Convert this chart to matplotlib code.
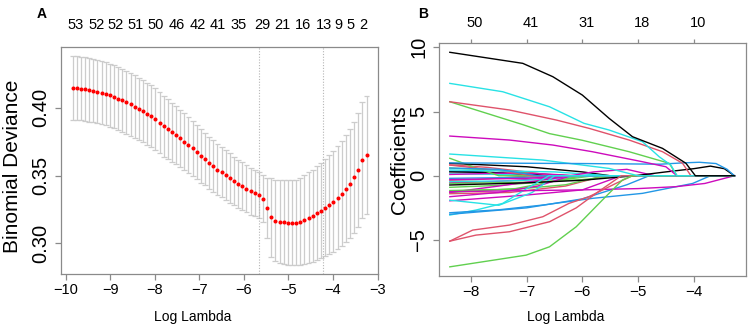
import matplotlib
matplotlib.use("Agg")
import matplotlib.pyplot as plt
from matplotlib.transforms import ScaledTranslation

plt.rcParams['font.family'] = ['Liberation Sans', 'DejaVu Sans']

# ---------------- Panel A data (cv.glmnet curve) ----------------
log_lambda_A = [-9.850, -9.757, -9.664, -9.571, -9.478, -9.385, -9.292, -9.199, -9.106, -9.013,
                -8.920, -8.827, -8.734, -8.641, -8.548, -8.455, -8.362, -8.269, -8.176, -8.083,
                -7.990, -7.897, -7.804, -7.711, -7.618, -7.525, -7.432, -7.339, -7.246, -7.153,
                -7.060, -6.967, -6.874, -6.781, -6.688, -6.595, -6.502, -6.409, -6.316, -6.223,
                -6.130, -6.037, -5.944, -5.851, -5.758, -5.665, -5.572, -5.479, -5.386, -5.293,
                -5.200, -5.107, -5.014, -4.921, -4.828, -4.735, -4.642, -4.549, -4.456, -4.363,
                -4.270, -4.177, -4.084, -3.991, -3.898, -3.805, -3.712, -3.619, -3.526, -3.433,
                -3.340, -3.247]
cv_mean = [0.4147, 0.4145, 0.4142, 0.4138, 0.4133, 0.4127, 0.4120, 0.4112, 0.4103, 0.4092,
           0.4081, 0.4068, 0.4055, 0.4040, 0.4025, 0.4009, 0.3992, 0.3975, 0.3957, 0.3938,
           0.3916, 0.3891, 0.3866, 0.3843, 0.3820, 0.3798, 0.3774, 0.3751, 0.3726, 0.3702,
           0.3675, 0.3647, 0.3623, 0.3596, 0.3570, 0.3545, 0.3525, 0.3503, 0.3482, 0.3461,
           0.3440, 0.3421, 0.3402, 0.3385, 0.3371, 0.3358, 0.3330, 0.3262, 0.3193, 0.3168,
           0.3161, 0.3156, 0.3153, 0.3153, 0.3153, 0.3159, 0.3173, 0.3188, 0.3205, 0.3223,
           0.3242, 0.3264, 0.3286, 0.3308, 0.3335, 0.3367, 0.3402, 0.3441, 0.3488, 0.3542,
           0.3614, 0.3655]
cv_se = [0.0235, 0.0235, 0.0235, 0.0235, 0.0234, 0.0234, 0.0234, 0.0233, 0.0233, 0.0233,
         0.0232, 0.0232, 0.0232, 0.0231, 0.0231, 0.0231, 0.0230, 0.0230, 0.0229, 0.0229,
         0.0228, 0.0227, 0.0225, 0.0222, 0.0219, 0.0216, 0.0213, 0.0210, 0.0207, 0.0204,
         0.0201, 0.0198, 0.0195, 0.0192, 0.0190, 0.0188, 0.0186, 0.0184, 0.0182, 0.0180,
         0.0178, 0.0176, 0.0174, 0.0172, 0.0170, 0.0168, 0.0172, 0.0220, 0.0290, 0.0300,
         0.0306, 0.0310, 0.0312, 0.0313, 0.0315, 0.0320, 0.0328, 0.0335, 0.0340, 0.0345,
         0.0352, 0.0360, 0.0367, 0.0373, 0.0380, 0.0388, 0.0395, 0.0401, 0.0410, 0.0420,
         0.0430, 0.0435]
vlines_A = [-5.656, -4.22]
top_pos_A = [-9.774, -9.314, -8.876, -8.432, -7.980, -7.518, -7.029, -6.590, -6.115, -5.588,
             -5.136, -4.677, -4.208, -3.869, -3.604, -3.310]
top_lab_A = ['53', '52', '52', '51', '50', '46', '42', '41', '35', '29', '21', '16', '13', '9', '5', '2']
xticks_A = [-10, -9, -8, -7, -6, -5, -4, -3]
yticks_A = [0.30, 0.35, 0.40]
ytlab_A = ['0.30', '0.35', '0.40']

# ---------------- Panel B data (coefficient paths) ----------------
# each path: (colour, log-lambda knots, coefficient values)
R_BLACK, R_RED, R_GREEN, R_BLUE, R_CYAN, R_MAG = '#000000', '#DF536B', '#61D04F', '#2297E6', '#28E2E5', '#CD0BBC'
coef_paths = [
    (R_GREEN, [-8.38, -7.6, -6.9, -6.3], [0.6, 0.45, 0.2, 0.0]),
    (R_BLUE, [-8.38, -7.8, -7.2, -6.6], [0.35, 0.3, 0.15, 0.0]),
    (R_RED, [-8.38, -7.9, -7.4, -6.9], [-0.35, -0.3, -0.15, 0.0]),
    (R_CYAN, [-8.38, -7.7, -7.0, -6.4], [0.15, 0.12, 0.06, 0.0]),
    (R_MAG, [-8.38, -7.6, -6.8, -6.0], [-0.55, -0.45, -0.25, 0.0]),
    (R_GREEN, [-8.38, -7.5, -6.6, -5.8], [-0.9, -0.75, -0.45, 0.0]),
    (R_BLACK, [-8.38, -7.6, -6.8, -6.2], [0.3, 0.25, 0.1, 0.0]),
    (R_RED, [-8.38, -7.7, -7.0, -6.5], [0.85, 0.65, 0.3, 0.0]),
    (R_CYAN, [-8.38, -7.3, -6.5, -5.9], [-0.45, -0.4, -0.25, 0.0]),
    (R_BLUE, [-8.38, -7.4, -6.6, -6.0], [-0.2, -0.15, -0.08, 0.0]),
    (R_MAG, [-8.38, -7.5, -6.7, -6.1], [0.1, 0.2, 0.15, 0.0]),
    (R_GREEN, [-8.38, -7.9, -7.5], [1.36, 0.6, 0.0]),
    (R_BLACK, [-8.38, -7.0, -6.0, -5.5], [0.97, 0.7, 0.3, 0.0]),
    (R_RED, [-8.38, -7.5, -6.9], [0.83, 0.4, 0.0]),
    (R_CYAN, [-8.38, -6.5, -5.5], [0.45, 0.3, 0.0]),
    (R_GREEN, [-8.38, -7.0, -6.0, -5.3], [-0.6, -0.5, -0.3, 0.0]),
    (R_BLUE, [-8.38, -7.5, -6.8], [0.6, 0.5, 0.0]),
    (R_MAG, [-8.38, -7.0, -6.2], [-0.3, -0.2, 0.0]),
    (R_RED, [-8.38, -7.3, -6.3, -5.6], [-1.4, -1.3, -0.8, 0.0]),
    (R_GREEN, [-8.38, -7.2, -6.0], [-1.3, -1.0, 0.0]),
    (R_MAG, [-8.38, -7.5, -6.5, -5.8, -5.2, -4.7], [-1.3, -0.8, -0.2, 0.3, 0.5, 0.0]),
    (R_GREEN, [-8.38, -7.2, -6.3, -5.6], [-1.15, -1.05, -0.7, 0.0]),
    (R_MAG, [-8.38, -7.5, -6.8, -6.2], [-1.63, -1.3, -0.8, 0.0]),
    (R_MAG, [-8.38, -7.0, -6.0, -5.3], [-1.95, -1.5, -1.1, 0.0]),
    (R_CYAN, [-8.38, -7.5, -6.9, -6.5], [-1.9, -2.3, -1.3, 0.0]),
    (R_BLACK, [-8.38, -7.0, -6.0, -5.06, -4.5, -4.0, -3.7, -3.45, -3.27],
     [-0.72, -0.55, -0.35, 0.0, 0.3, 0.55, 0.75, 0.55, 0.0]),
    (R_CYAN, [-8.38, -7.91, -7.43, -7.0, -6.6], [-3.06, -2.67, -2.15, -1.0, 0.0]),
    (R_BLUE, [-8.38, -7.5, -6.71, -5.82, -4.92, -4.02, -3.70], [-2.88, -2.65, -2.28, -1.76, -1.37, -0.6, 0.0]),
    (R_BLUE, [-8.38, -7.0, -6.0, -5.2, -4.8], [-3.0, -2.5, -1.8, -0.7, 0.0]),
    (R_MAG, [-8.38, -6.0, -5.0, -4.32, -3.8, -3.27], [-1.24, -1.1, -1.0, -0.85, -0.6, 0.0]),
    (R_RED, [-8.38, -7.91, -7.31, -6.59, -6.11, -5.7, -5.3], [-5.09, -4.62, -4.36, -3.58, -2.5, -1.2, 0.0]),
    (R_RED, [-8.38, -7.97, -7.31, -6.71, -6.24, -5.88, -5.40, -5.10], [-5.09, -4.23, -3.84, -3.19, -2.15, -1.63, -0.60, 0.0]),
    (R_GREEN, [-8.38, -7.01, -6.59, -6.11, -5.64, -5.28, -5.10], [-7.09, -6.18, -5.53, -3.97, -1.89, -0.33, 0.0]),
    (R_CYAN, [-8.38, -6.71, -5.52, -5.0], [1.69, 1.22, 0.57, 0.0]),
    (R_BLUE, [-8.38, -6.0, -4.6, -4.2, -3.9, -3.6, -3.4, -3.27], [1.0, 0.95, 0.9, 1.0, 1.05, 0.95, 0.5, 0.0]),
    (R_MAG, [-8.38, -7.31, -6.53, -5.82, -4.92, -4.50, -4.30], [3.09, 2.78, 2.39, 1.87, 1.09, 0.70, 0.0]),
    (R_GREEN, [-8.38, -7.91, -7.07, -6.59, -6.0, -5.16, -4.44, -4.30], [5.76, 5.12, 3.98, 3.28, 2.76, 1.87, 0.97, 0.0]),
    (R_RED, [-8.38, -7.31, -6.47, -5.88, -5.16, -4.56, -4.20, -4.05], [5.76, 5.12, 4.34, 3.69, 2.78, 1.87, 0.97, 0.0]),
    (R_CYAN, [-8.38, -7.43, -6.59, -5.97, -5.52, -4.92, -4.62, -4.41, -4.30], [7.19, 6.54, 5.37, 4.08, 3.56, 2.65, 1.48, 0.83, 0.0]),
    (R_BLACK, [-8.38, -7.07, -6.53, -6.0, -5.52, -5.10, -4.56, -4.14, -3.97], [9.61, 8.75, 7.71, 6.28, 4.47, 3.04, 2.13, 0.97, 0.0]),
]
path_end_B = -3.27
xticks_B = [-8, -7, -6, -5, -4]
yticks_B = [-5, 0, 5, 10]
top_lab_B = ['50', '41', '31', '18', '10']

# ---------------- Figure ----------------
W, H = 752, 331
fig = plt.figure(figsize=(W / 100, H / 100), dpi=100)
AXC = '#8a8a8a'


def style(ax, xlabsize, ylabsize):
    for s in ax.spines.values():
        s.set_color(AXC)
        s.set_linewidth(0.9)
    ax.tick_params(axis='both', colors=AXC, length=4.3, width=0.9)
    ax.tick_params(axis='x', labelcolor='black', labelsize=xlabsize, pad=2.5)
    ax.tick_params(axis='y', labelcolor='black', labelsize=ylabsize, pad=3.5)


# Panel A
axA = fig.add_axes([61 / W, 1 - 274 / H, (377.5 - 61) / W, (274 - 47) / H])
lo = [m - s for m, s in zip(cv_mean, cv_se)]
hi = [m + s for m, s in zip(cv_mean, cv_se)]
cap = 0.066
axA.vlines(log_lambda_A, lo, hi, color='#cccccc', lw=0.9, zorder=1)
axA.hlines(hi, [x - cap for x in log_lambda_A], [x + cap for x in log_lambda_A], color='#cccccc', lw=0.9, zorder=1)
axA.hlines(lo, [x - cap for x in log_lambda_A], [x + cap for x in log_lambda_A], color='#cccccc', lw=0.9, zorder=1)
for v in vlines_A:
    axA.axvline(v, color='#b5b5b5', lw=0.8, ls=(0, (1, 1.5)), zorder=1)
axA.plot(log_lambda_A, cv_mean, 'o', color='#ff0000', ms=2.9, mew=0, zorder=3)
axA.set_xlim(-10.11, -3.04)
axA.set_ylim(0.2774, 0.4449)
axA.set_xticks(xticks_A)
axA.set_yticks(yticks_A)
axA.set_yticklabels(ytlab_A)
style(axA, 10.5, 14.5)
for t in axA.get_yticklabels():
    t.set_rotation(90)
    t.set_va('center')
topA = axA.twiny()
topA.set_xlim(axA.get_xlim())
topA.set_xticks(top_pos_A)
topA.set_xticklabels(top_lab_A)
topA.tick_params(axis='x', length=0, labelsize=10.5, pad=10.5)
for s in topA.spines.values():
    s.set_visible(False)

# Panel B
axB = fig.add_axes([439.3 / W, 1 - 275.7 / H, (746 - 439.3) / W, (275.7 - 43.3) / H])
for col, xs, ys in coef_paths:
    xs2, ys2 = list(xs), list(ys)
    if xs2[-1] < path_end_B:
        xs2.append(path_end_B)
        ys2.append(0.0)
    axB.plot(xs2, ys2, color=col, lw=1.0, solid_joinstyle='round')
axB.set_xlim(-8.569, -3.061)
axB.set_ylim(-7.78, 10.31)
axB.set_xticks(xticks_B)
axB.set_yticks(yticks_B)
style(axB, 11, 14.5)
for t in axB.get_yticklabels():
    t.set_rotation(90)
    t.set_va('center')
topB = axB.twiny()
topB.set_xlim(axB.get_xlim())
topB.set_xticks(xticks_B)
topB.set_xticklabels(top_lab_B)
topB.tick_params(axis='x', colors=AXC, labelcolor='black', length=3, width=0.9, labelsize=10.5, pad=6.5)
for s in topB.spines.values():
    s.set_visible(False)
for t in topB.get_xticklabels():
    t.set_transform(t.get_transform() + ScaledTranslation(4 / 100, 0, fig.dpi_scale_trans))

# Axis titles and panel letters
fig.text(192.5 / W, 1 - 316.7 / H, 'Log Lambda', ha='center', va='center', fontsize=10)
fig.text(566 / W, 1 - 316.7 / H, 'Log Lambda', ha='center', va='center', fontsize=10)
fig.text(12.7 / W, 1 - 166 / H, 'Binomial Deviance', ha='center', va='center', rotation=90, fontsize=15)
fig.text(400 / W, 1 - 159.5 / H, 'Coefficients', ha='center', va='center', rotation=90, fontsize=15)
fig.text(42 / W, 1 - 14 / H, 'A', ha='center', va='center', fontsize=10, fontweight='bold')
fig.text(423 / W, 1 - 14 / H, 'B', ha='center', va='center', fontsize=10, fontweight='bold')

fig.savefig('out.png', dpi=100)
